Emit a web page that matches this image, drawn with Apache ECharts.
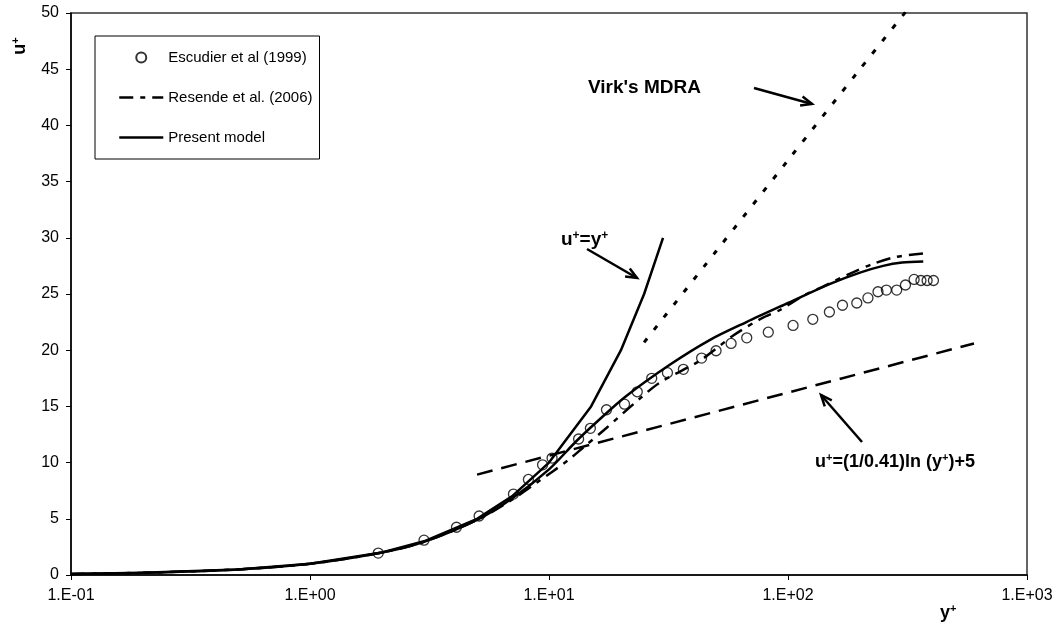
<!DOCTYPE html>
<html>
<head>
<meta charset="utf-8">
<script src="https://cdn.jsdelivr.net/npm/echarts@6/dist/echarts.min.js"></script>
<style>
html,body{margin:0;padding:0;background:#fff;}
#chart{width:1062px;height:632px;}
</style>
</head>
<body>
<div id="chart"></div>
<script>
// ---- data ----
const xTickLabels = ['1.E-01', '1.E+00', '1.E+01', '1.E+02', '1.E+03'];

const escudierY = [1.93, 3.0, 4.1, 5.1, 7.1, 8.2, 9.4, 10.3, 13.3, 14.9, 17.4, 20.7, 23.4, 26.9, 31.3, 36.5, 43.5, 50, 57.8, 67.2, 82.7, 105, 127, 149, 169, 194, 216, 238, 258, 285, 310, 337, 360, 382, 406];
const escudierU = [1.95, 3.1, 4.25, 5.25, 7.2, 8.5, 9.8, 10.4, 12.1, 13.05, 14.7, 15.2, 16.3, 17.5, 18.0, 18.3, 19.3, 19.95, 20.6, 21.1, 21.6, 22.2, 22.75, 23.4, 24.0, 24.2, 24.65, 25.2, 25.35, 25.35, 25.8, 26.3, 26.2, 26.2, 26.2];

const resendeY = [0.1, 0.2, 0.5, 1, 2, 3, 5, 7, 9, 12, 14, 17, 24, 29, 43, 59, 77, 93, 117, 140, 181, 228, 284, 368];
const resendeU = [0.1, 0.2, 0.5, 1, 2, 2.95, 4.9, 6.7, 8.3, 10.2, 11.4, 12.9, 15.7, 17.1, 19.1, 21.3, 22.8, 23.6, 24.9, 25.65, 26.8, 27.7, 28.3, 28.6];

const modelY = [0.1, 0.2, 0.5, 1, 2, 3, 5, 7, 10, 13, 16, 21, 32, 47, 67, 100, 150, 200, 250, 300, 368];
const modelU = [0.1, 0.2, 0.5, 1, 2, 2.95, 4.9, 6.8, 9.4, 11.9, 13.7, 15.9, 18.7, 20.9, 22.5, 24.2, 25.9, 26.9, 27.5, 27.8, 27.9];

const linearY = [0.1, 0.2, 0.5, 1, 2, 3, 5, 7, 10, 15, 20, 25, 30];
const linearU = [0.1, 0.2, 0.5, 1, 2, 3, 5, 7, 10, 15, 20, 25, 30];

const logLawY = [5, 10, 100, 600];
const logLawU = [8.93, 10.62, 16.23, 20.60];

const virkY = [25, 50, 100, 200, 330];
const virkU = [20.7, 28.8, 36.9, 45.0, 50.8];

const seriesNames = ['Escudier et al (1999)', 'Resende et al. (2006)', 'Present model'];

// ---- helpers ----
function pairs(xs, ys) { return xs.map((x, i) => [x, ys[i]]); }

const FONT = 'Liberation Sans, Arial, sans-serif';

function arrow(x1, y1, x2, y2) {
  const ang = Math.atan2(y2 - y1, x2 - x1);
  const L = 12, a = 0.4;
  const p1 = [x2 - L * Math.cos(ang - a), y2 - L * Math.sin(ang - a)];
  const p2 = [x2 - L * Math.cos(ang + a), y2 - L * Math.sin(ang + a)];
  return {
    type: 'group',
    children: [
      { type: 'line', shape: { x1: x1, y1: y1, x2: x2, y2: y2 }, style: { stroke: '#000', lineWidth: 2.5 } },
      { type: 'polyline', shape: { points: [p1, [x2, y2], p2] }, style: { stroke: '#000', lineWidth: 2.5, fill: null } }
    ]
  };
}

function richSup(size) {
  return {
    n: { fontFamily: FONT, fontWeight: 'bold', fontSize: size, color: '#000' },
    s: { fontFamily: FONT, fontWeight: 'bold', fontSize: Math.round(size * 0.62), color: '#000', verticalAlign: 'top', padding: [0, 0, Math.round(size * 0.45), 0] }
  };
}

const chart = echarts.init(document.getElementById('chart'), null, { renderer: 'canvas' });

const option = {
  backgroundColor: '#fff',
  animation: false,
  grid: { left: 71, right: 35, top: 13, bottom: 57, show: true, borderColor: '#333', borderWidth: 1.5, backgroundColor: '#fff' },
  xAxis: {
    type: 'log', logBase: 10, min: 0.1, max: 1000,
    axisLine: { show: true, onZero: false, lineStyle: { color: '#000', width: 1.5 } },
    axisTick: { show: true, inside: false, length: 5, lineStyle: { color: '#000' } },
    minorTick: { show: false },
    splitLine: { show: false },
    axisLabel: {
      color: '#000', fontSize: 16, fontFamily: FONT, margin: 13,
      formatter: function (v) {
        const i = Math.round(Math.log10(v)) + 1;
        return xTickLabels[i] !== undefined ? xTickLabels[i] : '';
      }
    }
  },
  yAxis: {
    type: 'value', min: 0, max: 50, interval: 5,
    axisLine: { show: true, onZero: false, lineStyle: { color: '#000', width: 1.5 } },
    axisTick: { show: true, inside: false, length: 5, lineStyle: { color: '#000' } },
    splitLine: { show: false },
    axisLabel: { color: '#000', fontSize: 16, fontFamily: FONT, margin: 12 }
  },
  legend: {
    orient: 'vertical', left: 95, top: 36,
    data: seriesNames,
    backgroundColor: '#fff', borderColor: '#000', borderWidth: 1,
    padding: [14, 7, 14, 23],
    itemWidth: 44, itemHeight: 10, itemGap: 25,
    textStyle: { color: '#000', fontSize: 15, fontFamily: FONT },
    selectedMode: false,
    lineStyle: { width: 2.5 }
  },
  series: [
    {
      name: 'u+=y+', type: 'line', data: pairs(linearY, linearU), symbol: 'none', silent: true,
      lineStyle: { color: '#000', width: 2.5 }, z: 3
    },
    {
      name: 'Log law', type: 'line', data: pairs(logLawY, logLawU), symbol: 'none', silent: true,
      lineStyle: { color: '#000', width: 2.5, type: [16, 9] }, z: 3
    },
    {
      name: "Virk's MDRA", type: 'line', data: pairs(virkY, virkU), symbol: 'none', silent: true, smooth: 0.3,
      lineStyle: { color: '#000', width: 3, type: [5, 11] }, z: 3
    },
    {
      name: seriesNames[1], type: 'line', data: pairs(resendeY, resendeU), symbol: 'none', smooth: 0.3,
      lineStyle: { color: '#000', width: 2.5, type: [14, 7, 5, 7] }, itemStyle: { color: 'rgba(0,0,0,0)' }, z: 4
    },
    {
      name: seriesNames[2], type: 'line', data: pairs(modelY, modelU), symbol: 'none', smooth: 0.3,
      lineStyle: { color: '#000', width: 2.5 }, itemStyle: { color: 'rgba(0,0,0,0)' }, z: 4
    },
    {
      name: seriesNames[0], type: 'scatter', data: pairs(escudierY, escudierU), symbol: 'circle', symbolSize: 10,
      itemStyle: { color: 'rgba(255,255,255,0)', borderColor: '#000', borderWidth: 1.3 }, z: 5
    }
  ],
  graphic: [
    { type: 'text', x: 20, y: 46, rotation: Math.PI / 2, style: { text: '{n|u}{s|+}', rich: richSup(18), align: 'center', verticalAlign: 'middle' } },
    { type: 'text', x: 940, y: 613, style: { text: '{n|y}{s|+}', rich: richSup(18), align: 'left', verticalAlign: 'middle' } },
    { type: 'text', x: 588, y: 88, style: { text: "Virk's MDRA", fontFamily: FONT, fontWeight: 'bold', fontSize: 19, fill: '#000', align: 'left', verticalAlign: 'middle' } },
    { type: 'text', x: 561, y: 240, style: { text: '{n|u}{s|+}{n|=y}{s|+}', rich: richSup(19), align: 'left', verticalAlign: 'middle' } },
    { type: 'text', x: 815, y: 462, style: { text: '{n|u}{s|+}{n|=(1/0.41)ln (y}{s|+}{n|)+5}', rich: richSup(18), align: 'left', verticalAlign: 'middle' } },
    arrow(754, 88, 812, 104),
    arrow(587, 249, 637, 278),
    arrow(862, 442, 821, 395)
  ]
};

chart.setOption(option);
</script>
</body>
</html>
